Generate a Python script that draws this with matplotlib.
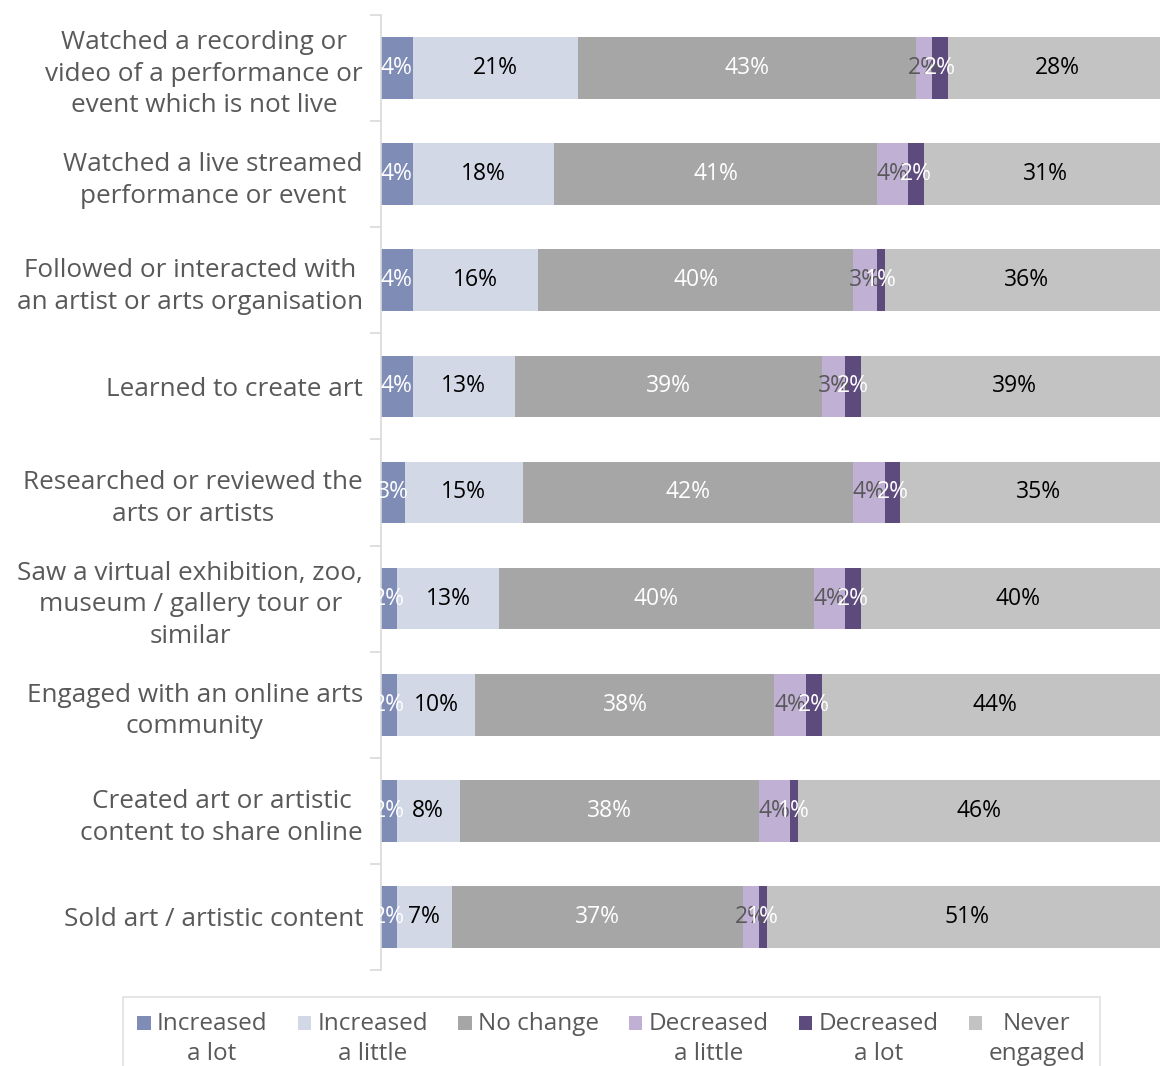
import matplotlib.pyplot as plt
from matplotlib.patches import Patch

plt.rcParams["font.family"] = ["Open Sans", "DejaVu Sans"]

activities = [
    "Watched a recording or\nvideo of a performance or\nevent which is not live",
    "Watched a live streamed\nperformance or event",
    "Followed or interacted with\nan artist or arts organisation",
    "Learned to create art",
    "Researched or reviewed the\narts or artists",
    "Saw a virtual exhibition, zoo,\nmuseum / gallery tour or\nsimilar",
    "Engaged with an online arts\ncommunity",
    "Created art or artistic\ncontent to share online",
    "Sold art / artistic content",
]

series = ["Increased\na lot", "Increased\na little", "No change\n",
          "Decreased\na little", "Decreased\na lot", "Never\nengaged"]

increased_lot = [4, 4, 4, 4, 3, 2, 2, 2, 2]
increased_little = [21, 18, 16, 13, 15, 13, 10, 8, 7]
no_change = [43, 41, 40, 39, 42, 40, 38, 38, 37]
decreased_little = [2, 4, 3, 3, 4, 4, 4, 4, 2]
decreased_lot = [2, 2, 1, 2, 2, 2, 2, 1, 1]
never_engaged = [28, 31, 36, 39, 35, 40, 44, 46, 51]

values = [increased_lot, increased_little, no_change,
          decreased_little, decreased_lot, never_engaged]
colors = ["#7F8DB6", "#D3D8E6", "#A6A6A6", "#BFB0D4", "#5E4B7E", "#C3C3C3"]
label_colors = ["white", "black", "white", "#595959", "white", "black"]

fig = plt.figure(figsize=(11.6, 10.66), dpi=100)
ax = fig.add_axes([0.3285, 0.090, 0.6715, 0.896])

ypos = list(range(len(activities)))
left = [0] * len(activities)
for vals, col, tcol in zip(values, colors, label_colors):
    ax.barh(ypos, vals, left=left, height=0.58, color=col)
    for y, l, v in zip(ypos, left, vals):
        ax.text(l + v / 2, y, f"{v}%", ha="center", va="center",
                color=tcol, fontsize=16.5)
    left = [l + v for l, v in zip(left, vals)]

# the plotting area is cut a little short of 100 on the right
ax.set_xlim(0, 99)
ax.set_ylim(len(activities) - 0.5, -0.5)
ax.set_xticks([])
ax.set_yticks(ypos)
ax.set_yticklabels(activities, fontsize=18.8, color="#595959",
                   multialignment="center", linespacing=1.35)
ax.tick_params(axis="y", which="major", length=0, pad=13)
ax.set_yticks([i - 0.5 for i in range(len(activities) + 1)], minor=True)
ax.tick_params(axis="y", which="minor", length=8, color="#D9D9D9", width=1.2)
for s in ["top", "right", "bottom"]:
    ax.spines[s].set_visible(False)
ax.spines["left"].set_color("#D9D9D9")
ax.spines["left"].set_linewidth(1.2)

leg_fs = 17.5
handles = [Patch(facecolor=c) for c in colors]
leg = fig.legend(handles, series, loc="upper center", ncol=6,
                 bbox_to_anchor=(0.527, 0.076), fontsize=leg_fs, frameon=True,
                 fancybox=False, edgecolor="#D9D9D9", handlelength=0.55,
                 handleheight=0.55, handletextpad=0.25, columnspacing=1.25,
                 borderpad=0.6, labelspacing=0.2)
leg.get_frame().set_linewidth(1.2)
for t in leg.get_texts():
    t.set_color("#595959")
    t.set_multialignment("center")
    t.set_linespacing(1.35)
# lift the colour squares up to the first line of each label
for h in leg.legend_handles:
    h.set_y(h.get_y() + leg_fs * 0.67)

fig.savefig("out.png", dpi=100)
